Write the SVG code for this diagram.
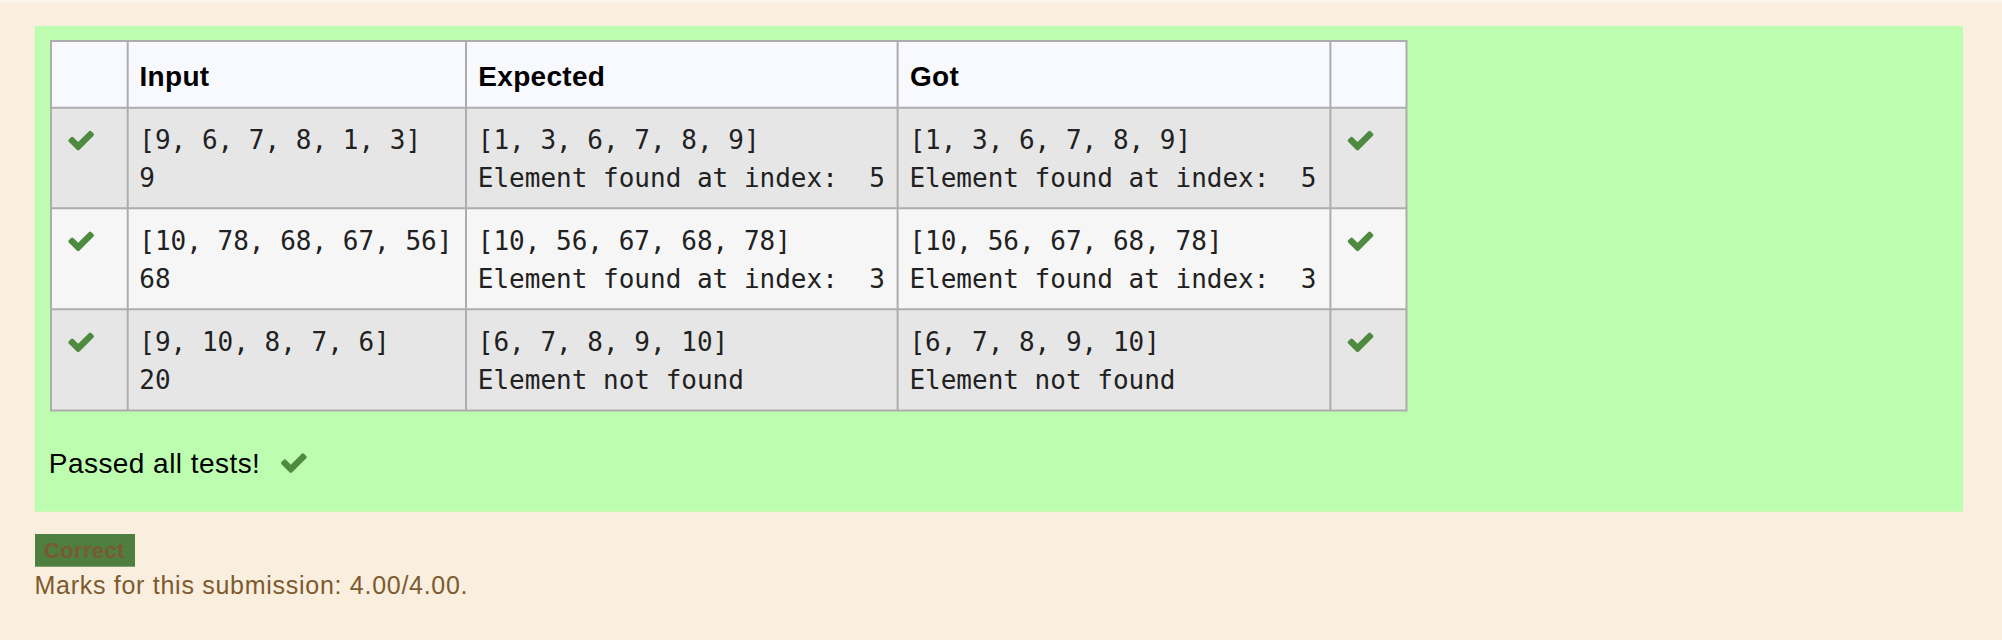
<svg xmlns="http://www.w3.org/2000/svg" xmlns:xlink="http://www.w3.org/1999/xlink" width="2002" height="640" viewBox="0 0 2002 640">
<style>
.sans{font-family:"Liberation Sans",Arial,sans-serif}
.hd{font-family:"Liberation Sans",Arial,sans-serif;font-weight:bold;font-size:28px;fill:#000}
.mono{font-family:"DejaVu Sans Mono","Liberation Mono",monospace;font-size:26px;fill:#212121;white-space:pre}
.grid{stroke:#ADADAD;stroke-width:2;fill:none}
.chk{fill:#4E8A40}
</style>
<defs>
<g id="chk" transform="scale(0.01658) translate(-121,-334)">
<path class="chk" d="M1671 566q0 40-28 68l-724 724-136 136q-28 28-68 28t-68-28l-136-136-362-362q-28-28-28-68t28-68l136-136q28-28 68-28t68 28l294 295 656-657q28-28 68-28t68 28l136 136q28 28 28 68z"/>
</g>
</defs>
<rect x="0" y="0" width="2002" height="640" fill="#FAEEDE"/>
<rect x="0" y="0" width="2002" height="3" fill="#FCF5EC"/>
<g id="results-box">
<rect x="34.8" y="26" width="1928.2" height="485.7" fill="#BDFDB0"/>
</g>
<g id="table">
<rect x="51" y="41" width="1355.5" height="66.7" fill="#F8F8FF"/>
<rect x="51" y="107.7" width="1355.5" height="100.6" fill="#E6E6E6"/>
<rect x="51" y="208.3" width="1355.5" height="101" fill="#F6F6F6"/>
<rect x="51" y="309.3" width="1355.5" height="101.2" fill="#E6E6E6"/>
</g>
<g id="connectors">
<rect class="grid" x="51" y="41" width="1355.5" height="369.5"/>
<line class="grid" x1="51" y1="107.7" x2="1406.5" y2="107.7"/>
<line class="grid" x1="51" y1="208.3" x2="1406.5" y2="208.3"/>
<line class="grid" x1="51" y1="309.3" x2="1406.5" y2="309.3"/>
<line class="grid" x1="127.7" y1="41" x2="127.7" y2="410.5"/>
<line class="grid" x1="466" y1="41" x2="466" y2="410.5"/>
<line class="grid" x1="897.6" y1="41" x2="897.6" y2="410.5"/>
<line class="grid" x1="1330.4" y1="41" x2="1330.4" y2="410.5"/>
</g>
<g id="header">
<text class="hd" x="139.5" y="85.7" letter-spacing="0.3">Input</text>
<text class="hd" x="478.3" y="85.7" letter-spacing="0.3">Expected</text>
<text class="hd" x="910" y="85.7" letter-spacing="0.3">Got</text>
</g>
<g id="row1">
<use xlink:href="#chk" x="68.3" y="130.7"/>
<text class="mono" x="139.3" y="149.3" xml:space="preserve">[9, 6, 7, 8, 1, 3]</text>
<text class="mono" x="139.3" y="187.3" xml:space="preserve">9</text>
<text class="mono" x="477.8" y="149.3" xml:space="preserve">[1, 3, 6, 7, 8, 9]</text>
<text class="mono" x="477.8" y="187.3" xml:space="preserve">Element found at index:  5</text>
<text class="mono" x="909.4" y="149.3" xml:space="preserve">[1, 3, 6, 7, 8, 9]</text>
<text class="mono" x="909.4" y="187.3" xml:space="preserve">Element found at index:  5</text>
<use xlink:href="#chk" x="1347.7" y="130.7"/>
</g>
<g id="row2">
<use xlink:href="#chk" x="68.3" y="231.5"/>
<text class="mono" x="139.3" y="250.3" xml:space="preserve">[10, 78, 68, 67, 56]</text>
<text class="mono" x="139.3" y="288.3" xml:space="preserve">68</text>
<text class="mono" x="477.8" y="250.3" xml:space="preserve">[10, 56, 67, 68, 78]</text>
<text class="mono" x="477.8" y="288.3" xml:space="preserve">Element found at index:  3</text>
<text class="mono" x="909.4" y="250.3" xml:space="preserve">[10, 56, 67, 68, 78]</text>
<text class="mono" x="909.4" y="288.3" xml:space="preserve">Element found at index:  3</text>
<use xlink:href="#chk" x="1347.7" y="231.5"/>
</g>
<g id="row3">
<use xlink:href="#chk" x="68.3" y="332.5"/>
<text class="mono" x="139.3" y="351.3" xml:space="preserve">[9, 10, 8, 7, 6]</text>
<text class="mono" x="139.3" y="389.3" xml:space="preserve">20</text>
<text class="mono" x="477.8" y="351.3" xml:space="preserve">[6, 7, 8, 9, 10]</text>
<text class="mono" x="477.8" y="389.3" xml:space="preserve">Element not found</text>
<text class="mono" x="909.4" y="351.3" xml:space="preserve">[6, 7, 8, 9, 10]</text>
<text class="mono" x="909.4" y="389.3" xml:space="preserve">Element not found</text>
<use xlink:href="#chk" x="1347.7" y="332.5"/>
</g>
<g id="passed">
<text class="sans" x="48.8" y="473.3" font-size="28" letter-spacing="0.45" fill="#000">Passed all tests!</text>
<use xlink:href="#chk" x="281" y="453.3"/>
</g>
<g id="correct-badge">
<rect x="35" y="534" width="100" height="32.7" fill="#4E7F41"/>
<text class="sans" x="44" y="557.7" font-size="22" font-weight="bold" letter-spacing="0.35" fill="#7A5A33">Correct</text>
</g>
<g id="marks">
<text class="sans" x="34.5" y="594.3" font-size="25" letter-spacing="0.72" fill="#7D5A2E">Marks for this submission: 4.00/4.00.</text>
</g>
</svg>
